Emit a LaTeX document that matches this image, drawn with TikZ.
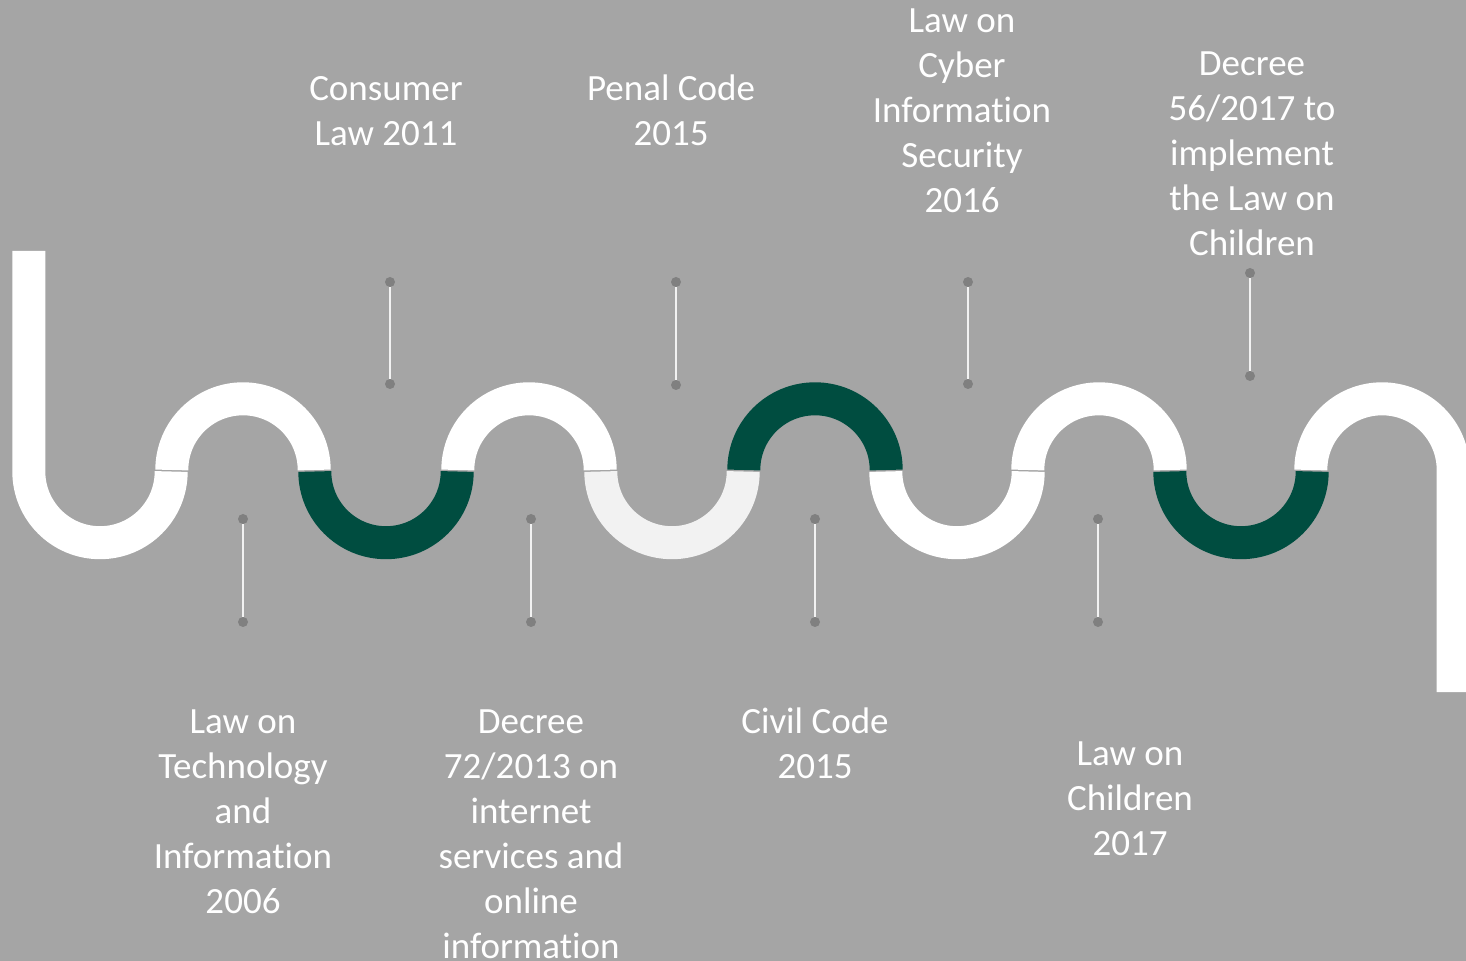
\documentclass[tikz,border=0pt]{standalone}
\usepackage{fontspec}
\setmainfont{Carlito}[Ligatures=NoCommon]
\usepackage{xcolor}
\usetikzlibrary{positioning}
\definecolor{bggray}{RGB}{165,165,165}
\definecolor{deepgreen}{RGB}{0,77,64}
\definecolor{palegray}{RGB}{242,242,242}
\definecolor{dotgray}{RGB}{128,128,128}

\begin{document}
\begin{tikzpicture}[
				x=0.5pt, y=0.5pt,
				band/.style={line width=16.5pt, line cap=butt},
				dot/.style={circle, fill=dotgray, inner sep=0pt, minimum size=5pt},
				stem/.style={draw=palegray, line width=1pt},
				label/.style={text=white, align=center, anchor=base, inner sep=0pt, font=\fontsize{18.5}{22.5}\selectfont}
			]

			% Background
			\fill[bggray] (0,0) rectangle (1466,-961);
			\useasboundingbox (0,0) rectangle (1466,-961);

			% Snake: left bar and bumps
			\draw[band, draw=white] (28.8,-251) -- (28.8,-471.5) arc[start angle=180, end angle=360, radius=71.2];
			\draw[band, draw=white] (171.8,-470) arc[start angle=180, end angle=0, radius=71.2];
			\draw[band, draw=deepgreen] (314.8,-471.5) arc[start angle=180, end angle=360, radius=71.2];
			\draw[band, draw=white] (457.8,-470) arc[start angle=180, end angle=0, radius=71.2];
			\draw[band, draw=palegray] (600.8,-471.5) arc[start angle=180, end angle=360, radius=71.2];
			\draw[band, draw=deepgreen] (743.8,-470) arc[start angle=180, end angle=0, radius=71.2];
			\draw[band, draw=white] (885.8,-471.5) arc[start angle=180, end angle=360, radius=71.2];
			\draw[band, draw=white] (1027.8,-470) arc[start angle=180, end angle=0, radius=71.2];
			\draw[band, draw=deepgreen] (1169.8,-471.5) arc[start angle=180, end angle=360, radius=71.2];
			\draw[band, draw=white] (1310.8,-470) arc[start angle=180, end angle=0, radius=71.2] -- (1453.2,-692);

			% Upper markers
			\node (t1a) [dot] at (390,-282) {};
			\node (t1b) [dot] at (390,-384) {};
			\node (t2a) [dot] at (676,-282) {};
			\node (t2b) [dot] at (676,-385) {};
			\node (t3a) [dot] at (968,-282) {};
			\node (t3b) [dot] at (968,-384) {};
			\node (t4a) [dot] at (1250,-273) {};
			\node (t4b) [dot] at (1250,-376) {};

			% Lower markers
			\node (b1a) [dot] at (243,-519) {};
			\node (b1b) [dot] at (243,-622) {};
			\node (b2a) [dot] at (531,-519) {};
			\node (b2b) [dot] at (531,-622) {};
			\node (b3a) [dot] at (815,-519) {};
			\node (b3b) [dot] at (815,-622) {};
			\node (b4a) [dot] at (1098,-519) {};
			\node (b4b) [dot] at (1098,-622) {};

			\draw [stem] (t1a) -- (t1b);
			\draw [stem] (t2a) -- (t2b);
			\draw [stem] (t3a) -- (t3b);
			\draw [stem] (t4a) -- (t4b);
			\draw [stem] (b1a) -- (b1b);
			\draw [stem] (b2a) -- (b2b);
			\draw [stem] (b3a) -- (b3b);
			\draw [stem] (b4a) -- (b4b);

			% Labels above (anchored at last baseline)
			\node (consumer) [label] at (386,-145.5) {Consumer\\Law 2011};
			\node (penal) [label] at (671,-146) {Penal Code\\2015};
			\node (cyber) [label] at (962,-213) {Law on\\Cyber\\Information\\Security\\2016};
			\node (decree56) [label] at (1252,-256) {Decree\\56/2017 to\\implement\\the Law on\\Children};

			% Labels below
			\node (techinfo) [label] at (243,-913) {Law on\\Technology\\and\\Information\\2006};
			\node (decree72) [label] at (531,-958) {Decree\\72/2013 on\\internet\\services and\\online\\information};
			\node (civil) [label] at (815,-778) {Civil Code\\2015};
			\node (children) [label] at (1130,-855) {Law on\\Children\\2017};

		\end{tikzpicture}
\end{document}
